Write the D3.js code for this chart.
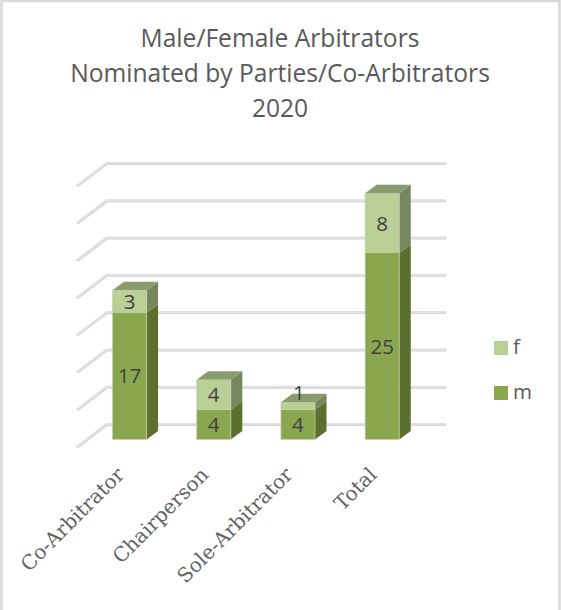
<!DOCTYPE html>
<html><head><meta charset="utf-8">
<script src="https://cdn.jsdelivr.net/npm/d3@7"></script>
<style>html,body{margin:0;padding:0;background:#fff}svg{display:block}</style></head>
<body><svg id="c" width="561" height="610"></svg>
<script>
const categories = ["Co-Arbitrator","Chairperson","Sole-Arbitrator","Total"];
const seriesM = [17,4,4,25];
const seriesF = [3,4,1,8];
const yTicks = [0,5,10,15,20,25,30,35];
const titleLines = ["Male/Female Arbitrators","Nominated by Parties/Co-Arbitrators","2020"];
const legendItems = ["f","m"];

const svg = d3.select("#c");
const sans = "'Open Sans', sans-serif";
const frame = svg.append("path").attr("d","M1.5,610L1.5,1L559.5,1L559.5,610")
  .attr("fill","none").attr("stroke","#dadada").attr("stroke-width",2.6);

const x = d3.scaleBand().domain(categories).range([87.4,424.3]).paddingInner(0.595).paddingOuter(0.2975);
const y = d3.scaleLinear().domain([0,35]).range([439.5,178.4]);
const dx = 11.5, dy = -8.5;
const wallX = 107, wallR = 445, wallShift = -15;

const c = {m:{front:"#8aa64f",side:"#5c6f2f",top:"#7d8f58"},f:{front:"#bacf96",side:"#76875d",top:"#8a9c6e"}};

// gridlines
const grid = svg.append("g");
yTicks.forEach(t=>{
  const yy = y(t)+wallShift;
  const d = `M${wallX-29},${yy+22}L${wallX},${yy}L${wallR},${yy}`;
  grid.append("path").attr("d",d).attr("fill","none").attr("stroke","#d6d6d6").attr("stroke-width",3).attr("stroke-linecap","round").attr("stroke-linejoin","round");
  grid.append("path").attr("d",d).attr("fill","none").attr("stroke","#ececec").attr("stroke-width",.9).attr("transform","translate(0,-.5)");
});

// bars
const stack = categories.map((cat,i)=>({cat,m:seriesM[i],f:seriesF[i]}));
const barG = svg.selectAll("g.bar").data(stack).join("g").attr("class","bar");
barG.each(function(d){
  const g = d3.select(this), x0 = x(d.cat), w = x.bandwidth();
  const segs = [{k:"m",a:0,b:d.m},{k:"f",a:d.m,b:d.m+d.f}];
  segs.forEach(s=>{
    const y0=y(s.a), y1=y(s.b), col=c[s.k];
    g.append("path").attr("fill",col.side)
      .attr("d",`M${x0+w},${y0}L${x0+w+dx},${y0+dy}L${x0+w+dx},${y1+dy}L${x0+w},${y1}Z`);
    g.append("rect").attr("x",x0).attr("y",y1).attr("width",w).attr("height",y0-y1).attr("fill",col.front);
  });
  const yt=y(d.m+d.f);
  g.append("path").attr("fill",c.f.top)
    .attr("d",`M${x0},${yt}L${x0+dx},${yt+dy}L${x0+w+dx},${yt+dy}L${x0+w},${yt}Z`);
  g.append("path").attr("fill","none").attr("stroke","#c9d3b4").attr("stroke-width",.7)
    .attr("d",`M${x0},${yt}L${x0},${y(0)}L${x0+w},${y(0)}L${x0+w},${yt}`);
  segs.forEach(s=>{
    const y0=y(s.a), y1=y(s.b), mid=(y0+y1)/2, v=s.b-s.a;
    const raised = (y0-y1)<16;
    g.append("text").attr("x",x0+w/2+(raised?1:0)).attr("y",raised?mid-13:mid)
      .attr("dy","0.36em").attr("text-anchor","middle")
      .attr("font-family",sans).attr("font-size",20.5).attr("fill","#404040").text(v);
  });
});

// category labels
svg.append("g").selectAll("text").data(categories).join("text")
  .attr("transform",d=>`translate(${x(d)+x.bandwidth()/2-8},${472}) rotate(-45)`)
  .attr("text-anchor","end").attr("dominant-baseline","middle")
  .attr("font-family","'DejaVu Serif', serif").attr("font-size",20).attr("fill","#636363").text(d=>d);

// title
svg.append("g").selectAll("text").data(titleLines).join("text")
  .attr("x",280).attr("y",(d,i)=>46.5+i*35).attr("text-anchor","middle")
  .attr("font-family",sans).attr("font-size",24.6).attr("fill","#595959").text(d=>d);

// legend
const leg = svg.append("g").selectAll("g").data(legendItems).join("g")
  .attr("transform",(d,i)=>`translate(494,${341+i*45})`);
leg.append("rect").attr("width",14).attr("height",14).attr("fill",d=>c[d].front);
leg.append("text").attr("x",19).attr("y",6).attr("dy","0.36em")
  .attr("font-family",sans).attr("font-size",20.5).attr("fill","#595959").text(d=>d);
</script></body></html>
